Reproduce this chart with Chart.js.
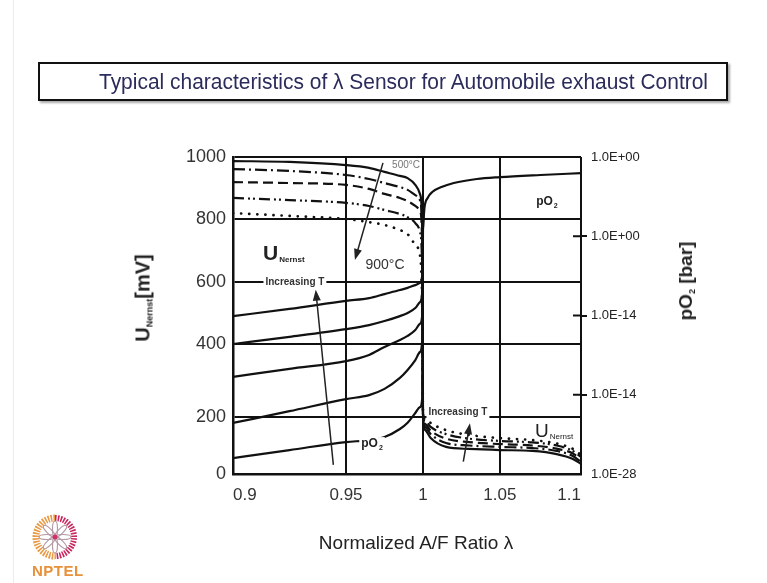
<!DOCTYPE html>
<html>
<head>
<meta charset="utf-8">
<script src="https://cdn.jsdelivr.net/npm/chart.js@4.4.1/dist/chart.umd.min.js"></script>
<style>
body { margin: 0; background: #fff; }
#wrap { position: relative; width: 767px; height: 583px; overflow: hidden; font-family: "Liberation Sans", Arial, sans-serif; }
#c { position: absolute; left: 0; top: 0; }
.edge { position: absolute; left: 13px; top: 0; width: 1px; height: 583px; background: #ececec; }
.titlebox { position: absolute; left: 38px; top: 62px; width: 686px; height: 35px; border: 2px solid #111; box-shadow: 2px 2px 2px #aaa; background: #fff; }
.titlebox span { position: absolute; left: 59px; top: 0; font-size: 22px; line-height: 36px; color: #2b2c5c; white-space: nowrap; transform-origin: 0 50%; }
.rot { position: absolute; white-space: nowrap; font-weight: bold; color: #222; transform: translate(-50%, -50%) rotate(-90deg); }
.rot sub { font-size: 9px; vertical-align: -3px; }
.xt { position: absolute; left: 416px; top: 543px; transform: translate(-50%, -50%); font-size: 19px; color: #222; white-space: nowrap; }
.nptel { position: absolute; left: 32px; top: 562px; font-size: 15px; font-weight: bold; color: #e8913a; letter-spacing: 0.5px; }
</style>
</head>
<body>
<div id="wrap">
  <canvas id="c" width="767" height="583"></canvas>
  <div class="edge"></div>
  <div class="titlebox"><span id="ttl">Typical characteristics of λ Sensor for Automobile exhaust Control</span></div>
  <div class="rot" style="left:143px;top:298px;font-size:20px;">U<sub>Nernst</sub>[mV]</div>
  <div class="rot" style="left:686px;top:281px;font-size:19px;">pO<sub>2</sub> [bar]</div>
  <div class="xt">Normalized A/F Ratio λ</div>
  <svg style="position:absolute;left:25px;top:507px" width="60" height="60" viewBox="0 0 60 60">
    <path d="M30,11 A19,19 0 0 0 30,49" fill="none" stroke="#e99a45" stroke-width="7" stroke-dasharray="1.6 1.2"/>
    <path d="M30,11 A19,19 0 0 1 30,49" fill="none" stroke="#c8285f" stroke-width="6" stroke-dasharray="1.6 1.2"/>
    <g fill="none" stroke="#b49aa4" stroke-width="1.2">
      <ellipse cx="30" cy="22" rx="2.5" ry="8"/>
      <ellipse cx="30" cy="22" rx="2.5" ry="8" transform="rotate(45 30 30)"/>
      <ellipse cx="30" cy="22" rx="2.5" ry="8" transform="rotate(90 30 30)"/>
      <ellipse cx="30" cy="22" rx="2.5" ry="8" transform="rotate(135 30 30)"/>
      <ellipse cx="30" cy="22" rx="2.5" ry="8" transform="rotate(180 30 30)"/>
      <ellipse cx="30" cy="22" rx="2.5" ry="8" transform="rotate(225 30 30)"/>
      <ellipse cx="30" cy="22" rx="2.5" ry="8" transform="rotate(270 30 30)"/>
      <ellipse cx="30" cy="22" rx="2.5" ry="8" transform="rotate(315 30 30)"/>
    </g>
    <circle cx="30" cy="30" r="2.5" fill="#d0306a"/>
  </svg>
  <div class="nptel">NPTEL</div>
</div>
<script>
// normalized A/F ratio and axis ticks
const lambdaTicks = [0.9, 0.95, 1, 1.05, 1.1];
const voltTicks = [0, 200, 400, 600, 800, 1000];
const po2Ticks = [0, 1, 2, 3, 4];
const po2Labels = ['1.0E-28', '1.0E-14', '1.0E-14', '1.0E+00', '1.0E+00'];

// U Nernst [mV], 500 .. 900 C
const lambdaU = [0.9, 0.925, 0.95, 0.965, 0.975, 0.985, 0.99, 0.995, 0.998, 0.999, 0.9995, 1.0, 1.0015, 1.005, 1.015, 1.03, 1.05, 1.07, 1.085, 1.095, 1.1];
const u500 = [987, 984, 974, 965, 952, 939, 932, 910, 881, 845, 733, 205, 154, 126, 95, 88, 84, 81, 70, 53, 35];
const u600 = [961, 955, 942, 929, 916, 903, 894, 877, 861, 823, 701, 208, 165, 140, 109, 100, 95, 91, 81, 63, 42];
const u700 = [919, 916, 910, 897, 881, 868, 858, 842, 826, 797, 670, 208, 175, 152, 124, 112, 105, 100, 89, 72, 51];
const u800 = [868, 861, 852, 842, 829, 816, 806, 787, 759, 718, 606, 211, 186, 165, 140, 124, 116, 111, 100, 81, 60];
const u900 = [819, 810, 800, 790, 781, 765, 752, 717, 686, 622, 510, 214, 196, 179, 154, 137, 126, 119, 107, 88, 67];

// pO2 curves, rich side (increasing T from bottom to top) and lean side
const lambdaRich = [0.9, 0.925, 0.95, 0.965, 0.975, 0.985, 0.99, 0.995, 0.998, 0.9995, 1.0];
const pRich1 = [490, 513, 539, 548, 561, 574, 581, 590, 597, 622, 813];
const pRich2 = [400, 423, 448, 461, 474, 490, 500, 516, 535, 568, 813];
const pRich3 = [310, 332, 353, 370, 392, 413, 426, 445, 465, 494, 813];
const pRich4 = [179, 216, 249, 260, 277, 307, 329, 356, 378, 413, 813];
const pRich5 = [56, 84, 112, 119, 130, 158, 180, 211, 227, 252, 813];
const lambdaLean = [1.0, 1.001, 1.003, 1.006, 1.012, 1.02, 1.035, 1.05, 1.075, 1.1];
const pLean = [771, 838, 868, 887, 903, 916, 929, 935, 942, 948];

// the printed axes are not evenly spaced: tick value -> fraction of axis length
const axisBreaks = {
  x: { v: lambdaTicks, f: [0, 0.3247, 0.546, 0.767, 1] },
  y: { v: voltTicks, f: [0, 0.1798, 0.4101, 0.6057, 0.8044, 1] }
};

class PiecewiseScale extends Chart.LinearScale {
  static id = 'piecewise';
  toDecimal(value) {
    const b = axisBreaks[this.id];
    let i = 0;
    while (i < b.v.length - 2 && value > b.v[i + 1]) i++;
    return b.f[i] + (value - b.v[i]) / (b.v[i + 1] - b.v[i]) * (b.f[i + 1] - b.f[i]);
  }
  getPixelForValue(value) {
    return value === null ? NaN : this.getPixelForDecimal(this.toDecimal(value));
  }
  getValueForPixel(pixel) {
    const b = axisBreaks[this.id];
    const d = this.getDecimalForPixel(pixel);
    let i = 0;
    while (i < b.f.length - 2 && d > b.f[i + 1]) i++;
    return b.v[i] + (d - b.f[i]) / (b.f[i + 1] - b.f[i]) * (b.v[i + 1] - b.v[i]);
  }
}
Chart.register(PiecewiseScale);

Chart.defaults.font.family = '"Liberation Sans", Arial, sans-serif';

function pts(xs, ys) {
  return xs.map((x, i) => ({ x: x, y: ys[i] }));
}
function curve(label, xs, ys, dash, cap) {
  return {
    label: label,
    data: pts(xs, ys),
    borderColor: '#111',
    borderWidth: cap ? 2.7 : 2.2,
    borderDash: dash,
    borderCapStyle: cap || 'butt',
    pointRadius: 0,
    fill: false,
    cubicInterpolationMode: 'monotone'
  };
}

const datasets = [
  curve('U 500°C', lambdaU, u500, []),
  curve('U 600°C', lambdaU, u600, [12, 4, 2, 4]),
  curve('U 700°C', lambdaU, u700, [10, 5]),
  curve('U 800°C', lambdaU, u800, [11, 4, 2, 3, 2, 4]),
  curve('U 900°C', lambdaU, u900, [0.1, 8], 'round'),
  curve('pO2 1', lambdaRich, pRich1, []),
  curve('pO2 2', lambdaRich, pRich2, []),
  curve('pO2 3', lambdaRich, pRich3, []),
  curve('pO2 4', lambdaRich, pRich4, []),
  curve('pO2 5', lambdaRich, pRich5, []),
  curve('pO2 lean', lambdaLean, pLean, [])
];

// text notes and arrows, placed in data coordinates
const notes = [
  { text: '500°C', x: 0.989, y: 974, font: '10px', color: '#777' },
  { text: '900°C', x: 0.9753, y: 654, font: '14px', color: '#333' },
  { text: 'Increasing T', x: 0.9274, y: 600, font: 'bold 10px', color: '#333', bg: true },
  { text: 'Increasing T', x: 1.0227, y: 213, font: 'bold 10px', color: '#333', bg: true },
  { text: 'pO', sub: '2', x: 0.9669, y: 105, font: 'bold 12px', color: '#222', bg: true },
  { text: 'pO', sub: '2', x: 1.079, y: 855, font: 'bold 12px', color: '#222' },
  { text: 'U', sub: 'Nernst', x: 0.9133, y: 670, font: 'bold 21px', subFont: 'bold 8px', color: '#222', left: true },
  { text: 'U', sub: 'Nernst', x: 1.0716, y: 130, font: '19px', subFont: '8px', color: '#222', left: true }
];
const arrows = [
  { x0: 0.974, y0: 981, x1: 0.9558, y1: 670 },
  { x0: 0.9444, y0: 32, x1: 0.9366, y1: 575 },
  { x0: 1.0262, y0: 43, x1: 1.0305, y1: 178 }
];

const notesPlugin = {
  id: 'notes',
  afterDatasetsDraw(chart) {
    const ctx = chart.ctx;
    const sx = chart.scales.x, sy = chart.scales.y, s2 = chart.scales.y2;
    const fam = ' "Liberation Sans", Arial, sans-serif';
    ctx.save();
    // right axis tick marks reach into the plot
    ctx.strokeStyle = '#111';
    ctx.lineWidth = 2;
    [1, 2, 3].forEach(v => {
      const y = s2.getPixelForValue(v);
      ctx.beginPath();
      ctx.moveTo(chart.chartArea.right - 8, y);
      ctx.lineTo(chart.chartArea.right, y);
      ctx.stroke();
    });
    notes.forEach(n => {
      const x = sx.getPixelForValue(n.x), y = sy.getPixelForValue(n.y);
      const mainFont = n.font + fam;
      const subFont = (n.subFont || 'bold 7px') + fam;
      ctx.font = mainFont;
      const w1 = ctx.measureText(n.text).width;
      ctx.font = subFont;
      const w2 = n.sub ? ctx.measureText(n.sub).width + 1 : 0;
      const w = w1 + w2;
      const x0 = n.left ? x : x - w / 2;
      ctx.textBaseline = n.left ? 'alphabetic' : 'middle';
      if (n.bg) {
        ctx.fillStyle = '#fff';
        ctx.fillRect(x0 - 2, y - 7, w + 4, 14);
      }
      ctx.fillStyle = n.color;
      ctx.textAlign = 'left';
      ctx.font = mainFont;
      ctx.fillText(n.text, x0, y);
      if (n.sub) {
        ctx.font = subFont;
        ctx.fillText(n.sub, x0 + w1 + 1, y + (n.left ? 2 : 4));
      }
    });
    arrows.forEach(a => {
      const x0 = sx.getPixelForValue(a.x0), y0 = sy.getPixelForValue(a.y0);
      const x1 = sx.getPixelForValue(a.x1), y1 = sy.getPixelForValue(a.y1);
      const ang = Math.atan2(y1 - y0, x1 - x0);
      ctx.strokeStyle = '#222';
      ctx.fillStyle = '#222';
      ctx.lineWidth = 1.5;
      ctx.beginPath();
      ctx.moveTo(x0, y0);
      ctx.lineTo(x1 - 8 * Math.cos(ang), y1 - 8 * Math.sin(ang));
      ctx.stroke();
      ctx.beginPath();
      ctx.moveTo(x1, y1);
      ctx.lineTo(x1 - 11 * Math.cos(ang) + 4 * Math.sin(ang), y1 - 11 * Math.sin(ang) - 4 * Math.cos(ang));
      ctx.lineTo(x1 - 11 * Math.cos(ang) - 4 * Math.sin(ang), y1 - 11 * Math.sin(ang) + 4 * Math.cos(ang));
      ctx.closePath();
      ctx.fill();
    });
    ctx.restore();
  }
};

new Chart(document.getElementById('c'), {
  type: 'line',
  data: { datasets: datasets },
  plugins: [notesPlugin],
  options: {
    responsive: false,
    devicePixelRatio: 1,
    animation: false,
    events: [],
    layout: { padding: { top: 157, left: 0, right: 0, bottom: 0 } },
    plugins: { legend: { display: false }, tooltip: { enabled: false }, title: { display: false } },
    scales: {
      x: {
        type: 'piecewise',
        position: 'bottom',
        min: 0.9,
        max: 1.1,
        afterBuildTicks: s => { s.ticks = lambdaTicks.map(v => ({ value: v })); },
        afterFit: s => { s.height = 109; },
        grid: { color: '#111', lineWidth: 2, drawTicks: false },
        border: { color: '#111', width: 2.5 },
        ticks: {
          color: '#333',
          font: { size: 17 },
          padding: 11,
          align: 'inner',
          maxRotation: 0,
          autoSkip: false,
          callback: (v, i) => String(lambdaTicks[i])
        }
      },
      y: {
        type: 'piecewise',
        position: 'left',
        min: 0,
        max: 1000,
        afterBuildTicks: s => { s.ticks = voltTicks.map(v => ({ value: v })); },
        afterFit: s => { s.width = 233; },
        grid: { color: '#111', lineWidth: 2, drawTicks: false },
        border: { color: '#111', width: 2.5 },
        ticks: {
          color: '#333',
          font: { size: 18 },
          padding: 7,
          autoSkip: false,
          callback: (v, i) => String(voltTicks[i])
        }
      },
      y2: {
        type: 'linear',
        position: 'right',
        min: 0,
        max: 4,
        afterBuildTicks: s => { s.ticks = po2Ticks.map(v => ({ value: v })); },
        afterFit: s => { s.width = 186; },
        grid: {
          drawOnChartArea: false,
          tickLength: 6,
          lineWidth: 2,
          color: c => (c.index === 0 || c.index === po2Ticks.length - 1) ? 'rgba(0,0,0,0)' : '#111'
        },
        border: { display: false },
        ticks: {
          color: '#222',
          font: { size: 13 },
          padding: 4,
          autoSkip: false,
          callback: (v, i) => po2Labels[i]
        }
      }
    }
  }
});

// squeeze the headline to the width it takes on the slide
const ttl = document.getElementById('ttl');
ttl.style.transform = 'scaleX(' + (609 / ttl.getBoundingClientRect().width) + ')';
</script>
</body>
</html>
